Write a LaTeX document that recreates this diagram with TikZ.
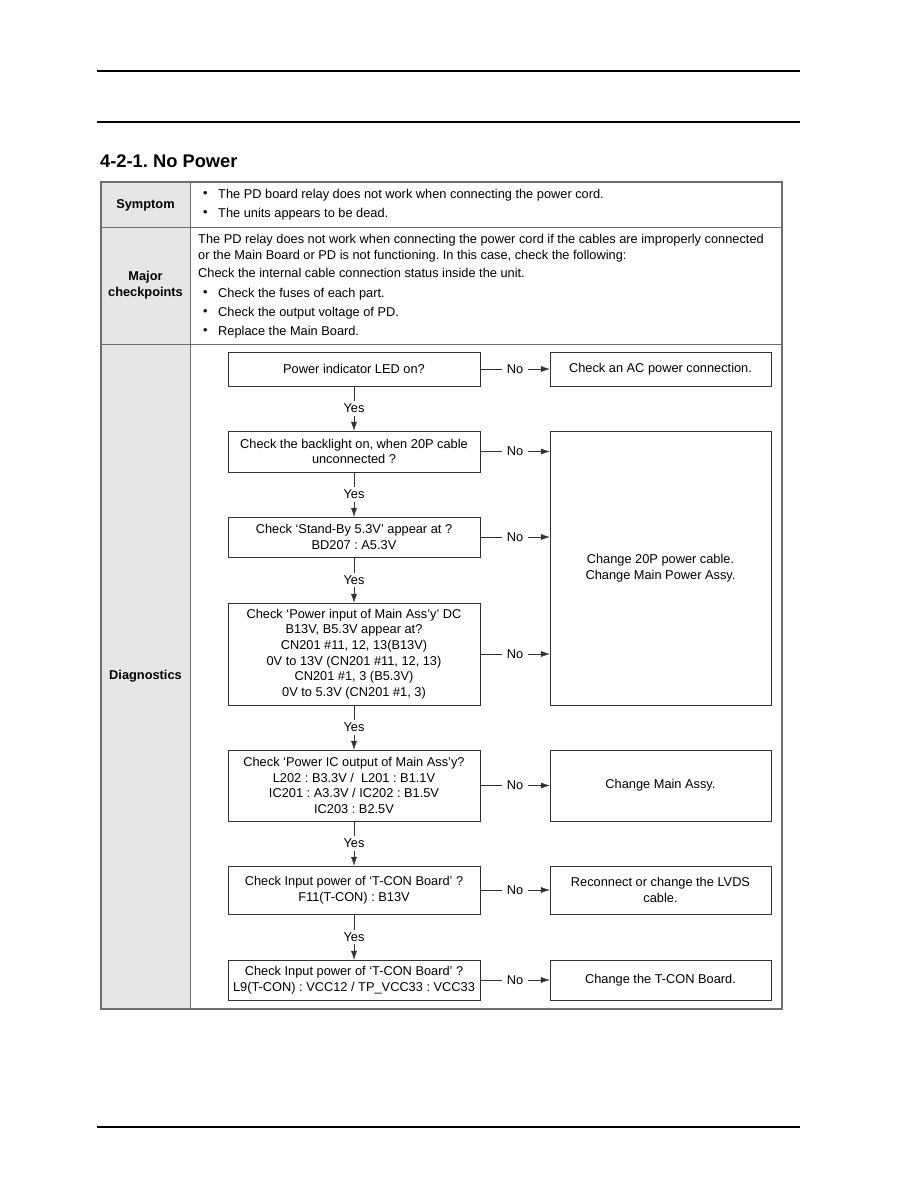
\documentclass[tikz,border=0pt]{standalone}
\usepackage{fontspec}
\setmainfont{Liberation Sans}
\usetikzlibrary{arrows.meta,positioning}
\definecolor{rowgray}{RGB}{230,230,230}
\definecolor{rulegray}{RGB}{110,110,110}
\frenchspacing

\begin{document}
\begin{tikzpicture}[x=1pt,y=-1pt,every node/.style={font=\fontsize{12.8}{15.6}\selectfont},
        box/.style={draw=black!80,minimum width=252pt,minimum height=34pt,align=center,inner sep=1pt},
        res/.style={draw=black!80,minimum width=221pt,minimum height=34pt,align=center,inner sep=1pt},
        lbl/.style={fill=white,text=black,inner xsep=5pt,inner ysep=3pt},
        head/.style={font=\fontsize{12.8}{15.6}\selectfont\bfseries,align=center},
        txt/.style={anchor=west,inner sep=0pt}]
      \useasboundingbox[fill=white] (0,0) rectangle (918,1188);
      % page rules and title
      \draw[line width=1.2pt] (97,71) -- (800,71);
      \draw[line width=1.2pt] (97,122) -- (800,122);
      \draw[line width=1.2pt] (97,1127) -- (800,1127);
      \node[txt,font=\fontsize{18.3}{22}\selectfont\bfseries] (title) at (100,161) {4-2-1. No Power};
      % table
      \filldraw[fill=rowgray,draw=rulegray,line width=1pt] (101,182) rectangle (190,1009);
      \draw[rulegray,line width=1.2pt] (101,182) rectangle (782,1009);
      \draw[rulegray,line width=1pt] (101,227) -- (782,227) (101,344) -- (782,344);
      \node[head] (hsym) at (145.5,205) {Symptom};
      \node[head] (hchk) at (145.5,285) {Major\\checkpoints};
      \node[head] (hdia) at (145.5,676) {Diagnostics};
      \foreach \y/\t [count=\i] in {195/{The PD board relay does not work when connecting the power cord.},
          214/{The units appears to be dead.}}{
        \node[txt] (sb\i) at (203,\y) {•};
        \node[txt] (st\i) at (218,\y) {\t};
      }
      \node[txt] (p1) at (198,240) {The PD relay does not work when connecting the power cord if the cables are improperly connected};
      \node[txt] (p2) at (198,256) {or the Main Board or PD is not functioning. In this case, check the following:};
      \node[txt] (p3) at (198,273) {Check the internal cable connection status inside the unit.};
      \foreach \y/\t [count=\i] in {294/{Check the fuses of each part.},313/{Check the output voltage of PD.},
          332/{Replace the Main Board.}}{
        \node[txt] (cb\i) at (203,\y) {•};
        \node[txt] (ct\i) at (218,\y) {\t};
      }
      % diagnostics flow
      \node[box] (b1) at (354,369) {Power indicator LED on?};
      \node[box,minimum height=41pt] (b2) at (354,451.5) {Check the backlight on, when 20P cable\\unconnected ?};
      \node[box,minimum height=40pt] (b3) at (354,537) {Check ‘Stand-By 5.3V’ appear at ?\\BD207 : A5.3V};
      \node[box,minimum height=102pt] (b4) at (354,654) {Check ‘Power input of Main Ass’y’ DC\\B13V, B5.3V appear at?\\CN201 \#11, 12, 13(B13V)\\0V to 13V (CN201 \#11, 12, 13)\\CN201 \#1, 3 (B5.3V)\\0V to 5.3V (CN201 \#1, 3)};
      \node[box,minimum height=71pt] (b5) at (354,785.5) {Check ‘Power IC output of Main Ass’y?\\L202 : B3.3V /~ L201 : B1.1V\\IC201 : A3.3V / IC202 : B1.5V\\IC203 : B2.5V};
      \node[box,minimum height=48pt] (b6) at (354,890) {Check Input power of ‘T-CON Board’ ?\\F11(T-CON) : B13V};
      \node[box,minimum height=40pt] (b7) at (354,980) {Check Input power of ‘T-CON Board’ ?\\L9(T-CON) : VCC12 / TP\_VCC33 : VCC33};
      \node[res] (r1) at (660.5,369) {Check an AC power connection.};
      \node[res,minimum height=274pt] (r2) at (660.5,568) {Change 20P power cable.\\Change Main Power Assy.};
      \node[res,minimum height=71pt] (r3) at (660.5,785.5) {Change Main Assy.};
      \node[res,minimum height=48pt] (r4) at (660.5,890) {Reconnect or change the LVDS\\cable.};
      \node[res,minimum height=40pt] (r5) at (660.5,980) {Change the T-CON Board.};
      \foreach \a/\b in {b1/b2,b2/b3,b3/b4,b4/b5,b5/b6,b6/b7}{
        \draw[black!80,-{Latex[length=9pt,width=6pt]}] (\a) -- node[lbl]{Yes} (\b);
      }
      \foreach \a/\b in {b1/r1,b2/r2,b3/r2,b4/r2,b5/r3,b6/r4,b7/r5}{
        \draw[black!80,-{Latex[length=9pt,width=6pt]}] (\a) -- node[lbl]{No} (\a -| \b.west);
      }
    \end{tikzpicture}
\end{document}
